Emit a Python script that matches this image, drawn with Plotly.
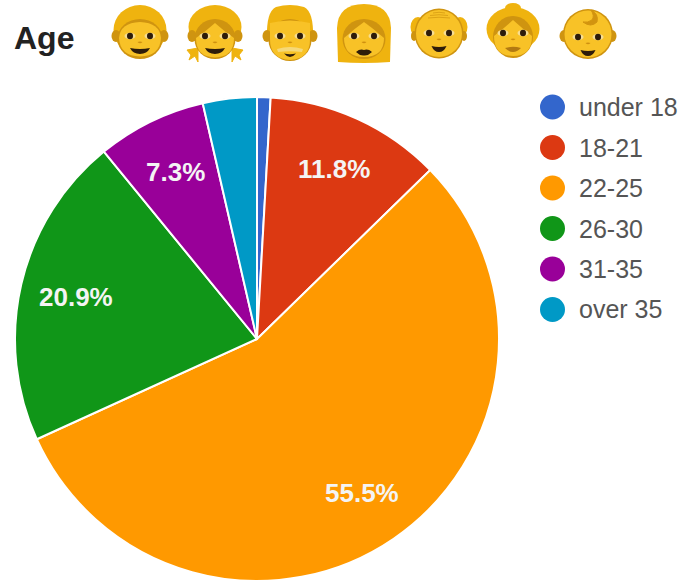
import math
import re
import plotly.graph_objects as go

W, H = 685, 581

# Survey data
categories = ["under 18", "18-21", "22-25", "26-30", "31-35", "over 35"]
shares = [0.9, 11.8, 55.5, 20.9, 7.3, 3.6]
colors = ["#3366cc", "#dc3912", "#ff9900", "#109618", "#990099", "#0099c6"]

FONT = "Liberation Sans, Arial, sans-serif"
PIE_CX, PIE_CY, PIE_R = 257, 339, 242
LABEL_RADIUS = 0.77
LABEL_MIN_SHARE = 5

HAIR = "#efb30f"
SKIN = "#f8c227"
EDGE = "#cf9410"
DARK = "#2e1c0a"
LIGHT = "#f6d878"


def px(x):
    return x / W


def py(y):
    return 1 - y / H


shapes = []


def ellipse(cx, cy, rx, ry, fill):
    shapes.append(dict(type="circle", xref="paper", yref="paper", layer="above",
                       x0=px(cx - rx), x1=px(cx + rx), y0=py(cy + ry), y1=py(cy - ry),
                       fillcolor=fill, line=dict(width=0)))


def path(d, ox, oy, fill="rgba(0,0,0,0)", line=None, width=0):
    # Path written in pixel offsets from (ox, oy), converted to paper space
    def convert(m):
        return f"{px(float(m.group(1)) + ox):.5f},{py(float(m.group(2)) + oy):.5f}"
    svg = re.sub(r"(-?[\d.]+)[ ,](-?[\d.]+)", convert, d)
    shapes.append(dict(type="path", xref="paper", yref="paper", layer="above", path=svg,
                       fillcolor=fill, line=dict(width=width, color=line or fill)))


def features(cx, cy, mouth="smile", gap=10):
    for side in (-1, 1):
        ellipse(cx + side * gap, cy, 5.5, 3.2, "#f7dd92")
        ellipse(cx + side * gap, cy, 3, 3.2, DARK)
    path("M -2.5,6 Q 0,8.5 2.5,6 Q 0,4.8 -2.5,6 Z", cx, cy, fill="#cf9010")
    if mouth == "smile":
        path("M -10,12 Q 0,14 10,12 Q 7,18 0,18 Q -7,18 -10,12 Z", cx, cy, fill=DARK)
    elif mouth == "small":
        path("M -7.5,13 Q 0,15 7.5,13 Q 5,19 0,19 Q -5,19 -7.5,13 Z", cx, cy, fill=DARK)
    elif mouth == "lips":
        path("M -8,16 Q -4,12.5 0,14 Q 4,12.5 8,16 Q 4,20 0,19.5 Q -4,20 -8,16 Z", cx, cy, fill=DARK)
    elif mouth == "closed":
        path("M -8,15 Q 0,12.5 8,15 Q 4,19 0,19 Q -4,19 -8,15 Z", cx, cy, fill="#b27a12")


def ears(cx, cy, dist):
    for side in (-1, 1):
        ellipse(cx + side * dist, cy, 4.5, 6, EDGE)


def boy(cx):
    cy = 36
    ellipse(cx, 30, 26.5, 25, HAIR)
    ears(cx, cy, 24)
    ellipse(cx, 39, 22.5, 20, EDGE)
    path("M -21,2 Q -20,-13 0,-14 Q 20,-13 21,2 Q 20,20 0,20.5 Q -20,20 -21,2 Z", cx, cy, fill=SKIN)
    features(cx, cy)


def girl(cx):
    cy = 36
    for side in (-1, 1):
        path(f"M {side * 17},12 L {side * 28},14 L {side * 24},19 L {side * 26},24 "
             f"L {side * 20},20 L {side * 17},26 Z", cx, cy, fill=HAIR, line=HAIR, width=1)
    ellipse(cx, 27, 26.5, 22, HAIR)
    ears(cx, cy, 23)
    ellipse(cx, 39, 20.5, 20, EDGE)
    path("M -19,2 Q -10,-4 0,-13 Q 10,-4 19,2 Q 19,21 0,21.5 Q -19,21 -19,2 Z", cx, cy, fill=SKIN)
    features(cx, cy)


def man(cx):
    cy = 36
    path("M -23,2 Q -24,-24 -14,-29 Q 0,-33 14,-29 Q 24,-24 23,2 Z", cx, cy, fill=HAIR)
    ears(cx, cy, 23)
    ellipse(cx, 40, 21.5, 21, EDGE)
    path("M -20,3 L -20,-13 Q 0,-18 20,-13 L 20,3 Q 20,23 0,24 Q -20,23 -20,3 Z", cx, cy, fill=SKIN)
    features(cx, cy, mouth="none")
    path("M -13,13 Q 0,9 13,13 L 12,16 Q 0,14.5 -12,16 Z", cx, cy, fill=LIGHT)
    path("M -6,17.5 Q 0,19 6,17.5 Q 3,21 0,21 Q -3,21 -6,17.5 Z", cx, cy, fill=DARK)


def woman(cx):
    cy = 36
    path("M -26,26 L -27,-8 Q -26,-32 0,-32 Q 26,-32 27,-8 L 26,26 Q 0,28 -26,26 Z", cx, cy, fill=HAIR)
    ellipse(cx, 39, 21.5, 20, EDGE)
    path("M -20,2 Q -10,-7 0,-14 Q 10,-7 20,2 Q 20,21 0,21 Q -20,21 -20,2 Z", cx, cy, fill=SKIN)
    features(cx, cy, mouth="lips")


def old_man(cx):
    cy = 33
    for side in (-1, 1):
        ellipse(cx + side * 21, 27, 7.5, 10, HAIR)
        ellipse(cx + side * 25, 36, 3, 5, EDGE)
    ellipse(cx, 33.5, 24.5, 25, EDGE)
    ellipse(cx, 33.5, 23, 23.5, SKIN)
    for i, half in enumerate((6, 9, 11)):
        path(f"M {-half},{i * 2.5 - 20} Q 0,{i * 2.5 - 21.5} {half},{i * 2.5 - 20}", cx, cy, line="#dda316", width=1)
    features(cx, cy, mouth="small")


def old_woman(cx):
    cy = 33
    ellipse(cx, 8, 8, 5, HAIR)
    ellipse(cx, 29, 26.5, 22, HAIR)
    ellipse(cx, 37, 20, 21, EDGE)
    path("M -19,3 Q -10,-4 0,-13 Q 10,-4 19,3 Q 19,23 0,23 Q -19,23 -19,3 Z", cx, cy, fill=SKIN)
    features(cx, cy, mouth="closed")


def baby(cx):
    cy = 36
    ears(cx, cy, 24)
    ellipse(cx, 34, 25, 25, EDGE)
    ellipse(cx, 34, 23.5, 23.5, SKIN)
    path("M -5,-14 Q 3,-8 9,-14 Q 11,-22 3,-26 Q 7,-20 4,-16 Q 0,-13 -5,-14 Z", cx, cy, fill="#d2940f", line="#d2940f", width=1)
    features(cx, cy + 1, mouth="small")


for draw, centre in zip((boy, girl, man, woman, old_man, old_woman, baby),
                        (140, 215, 290, 364, 439, 513, 588)):
    draw(centre)

# Legend built from the category list: round swatch plus grey label
annotations = []
for i, (name, color) in enumerate(zip(categories, colors)):
    y = 107 + i * 40.5
    ellipse(552.5, y, 12.5, 12.5, color)
    annotations.append(dict(text=name, x=px(577), y=py(y), xref="paper", yref="paper",
                            xanchor="left", yanchor="middle", showarrow=False,
                            font=dict(family=FONT, size=25, color="#555555")))

annotations.append(dict(text="<b>Age</b>", x=px(12), y=py(38), xref="paper", yref="paper",
                        xanchor="left", yanchor="middle", showarrow=False,
                        font=dict(family=FONT, size=32, color="#222222")))

# Percentage labels sit at a fixed radius along each slice's mid-angle
total = sum(shares)
running = 0
for share in shares:
    mid = (running + share / 2) / total * 2 * math.pi
    running += share
    if share < LABEL_MIN_SHARE:
        continue
    annotations.append(dict(text=f"<b>{share:.1f}%</b>",
                            x=px(PIE_CX + LABEL_RADIUS * PIE_R * math.sin(mid)),
                            y=py(PIE_CY - LABEL_RADIUS * PIE_R * math.cos(mid)),
                            xref="paper", yref="paper", showarrow=False,
                            xanchor="center", yanchor="middle",
                            font=dict(family=FONT, size=26, color="#f4f4f4")))

fig = go.Figure(go.Pie(
    labels=categories,
    values=shares,
    sort=False,
    direction="clockwise",
    rotation=0,
    textinfo="none",
    hoverinfo="label+percent",
    marker=dict(colors=colors, line=dict(color="white", width=2)),
    domain=dict(x=[px(PIE_CX - PIE_R), px(PIE_CX + PIE_R)],
                y=[max(0, py(PIE_CY + PIE_R)), py(PIE_CY - PIE_R)]),
))

fig.update_layout(
    width=W, height=H,
    margin=dict(l=0, r=0, t=0, b=0),
    paper_bgcolor="white",
    showlegend=False,
    shapes=shapes,
    annotations=annotations,
)

fig.write_html("out.html", config=dict(displayModeBar=False))
